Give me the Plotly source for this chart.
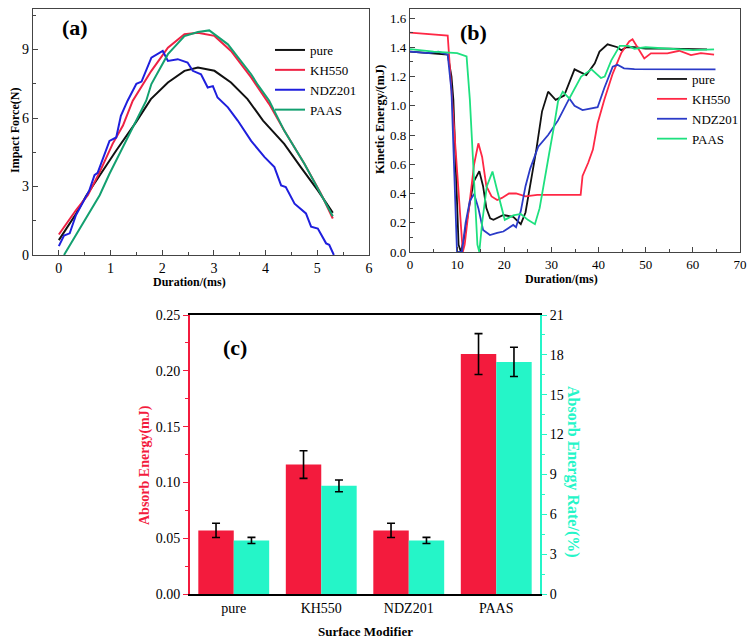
import plotly.graph_objects as go

# ---------------- Panel (a): impact force vs duration ----------------
pure_a_x = [0, 0.33, 0.53, 0.66, 1.11, 1.49, 1.78, 2.11, 2.43, 2.69, 3.01, 3.33, 3.65, 3.95, 4.36, 4.68, 5.01, 5.30]
pure_a_y = [0.65, 1.8, 2.6, 3.05, 4.58, 5.81, 6.83, 7.56, 8.07, 8.21, 8.07, 7.56, 6.83, 5.89, 4.87, 3.85, 2.83, 1.85]

kh_a_x = [0, 0.33, 0.56, 0.79, 1.04, 1.24, 1.43, 1.79, 2.11, 2.43, 2.69, 3.01, 3.33, 3.72, 4.07, 4.36, 4.75, 5.07, 5.30]
kh_a_y = [0.9, 1.96, 2.62, 3.63, 4.87, 5.67, 6.76, 8.07, 9.08, 9.67, 9.74, 9.6, 8.94, 7.78, 6.61, 5.45, 4.0, 2.69, 1.6]

ndz_a_x = [0, 0.1, 0.21, 0.33, 0.59, 0.69, 0.75, 0.98, 1.11, 1.2, 1.33, 1.5, 1.6, 1.79, 2.01, 2.11, 2.30, 2.49, 2.59,
           2.75, 2.88, 2.98, 3.07, 3.27, 3.46, 3.72, 3.98, 4.17, 4.30, 4.39, 4.56, 4.78, 4.88, 5.01, 5.17, 5.23, 5.32]
ndz_a_y = [0.39, 0.85, 0.95, 1.74, 2.83, 3.5, 3.6, 5.0, 5.15, 6.1, 6.76, 7.5, 7.6, 8.65, 8.94, 8.5, 8.58, 8.43, 8.07,
           7.92, 7.34, 7.4, 6.9, 6.47, 5.89, 5.0, 4.29, 3.85, 3.05, 2.98, 2.25, 1.82, 1.24, 1.16, 0.51, 0.45, 0.0]

paas_a_x = [0.1, 0.3, 0.59, 0.79, 0.98, 1.24, 1.49, 1.69, 1.79, 2.11, 2.43, 2.69, 2.91, 3.27, 3.72, 3.85, 4.07, 4.36, 4.75, 5.07, 5.30]
paas_a_y = [0.0, 0.76, 1.82, 2.62, 3.56, 4.72, 5.89, 6.76, 7.49, 8.8, 9.59, 9.77, 9.84, 9.23, 7.92, 7.45, 6.76, 5.45, 4.0, 2.69, 1.7]

# ---------------- Panel (b): kinetic energy vs duration ----------------
pure_b_x = [0, 4, 8, 8.8, 9.2, 9.8, 10.3, 10.8, 11.5, 12.5, 13.5, 14.7, 15.5, 16.2, 17.0, 17.7, 19.8, 21.9, 23.5,
            24.5, 25.5, 26.8, 28.0, 29.3, 30.9, 32.7, 34.9, 37.4, 39.2, 40.2, 41.9, 44.0, 44.8, 45.9, 47.6, 50, 55, 60, 63.0]
pure_b_y = [1.37, 1.36, 1.35, 1.2, 1.04, 0.5, 0.05, 0.0, 0.1, 0.3, 0.48, 0.553, 0.45, 0.3, 0.23, 0.22, 0.253, 0.24, 0.19,
            0.27, 0.45, 0.70, 0.96, 1.096, 1.04, 1.07, 1.249, 1.21, 1.29, 1.37, 1.42, 1.40, 1.38, 1.40, 1.40, 1.39, 1.39, 1.39, 1.385]

kh_b_x = [0, 4, 8.0, 8.8, 9.6, 10.4, 11.2, 11.6, 12.7, 13.6, 14.5, 15.3, 16.2, 17.3, 18.5, 19.5, 21.0, 22.5, 24.5, 27,
          30, 33, 36.2, 36.6, 37.8, 38.8, 39.8, 41.2, 43.0, 44.8, 46.5, 47.2, 48.2, 49.7, 51.1, 54.6, 57.1, 59.6, 61.7, 64.5]
kh_b_y = [1.50, 1.49, 1.48, 1.1, 0.72, 0.31, 0.0, 0.05, 0.355, 0.6, 0.743, 0.65, 0.45, 0.38, 0.355, 0.37, 0.40, 0.40, 0.38, 0.39,
          0.39, 0.39, 0.39, 0.52, 0.61, 0.70, 0.88, 1.04, 1.22, 1.36, 1.44, 1.454, 1.40, 1.324, 1.358, 1.358, 1.376, 1.346, 1.36, 1.35]

ndz_b_x = [0, 4, 6, 8, 8.8, 9.4, 9.97, 10.5, 11.0, 11.8, 12.7, 13.6, 14.5, 15.5, 16.96, 18.5, 19.8, 21.9, 22.5, 23.5,
           24.5, 25.5, 26.5, 27.2, 29.3, 31.4, 33.8, 34.9, 36.6, 38.0, 39.8, 41.2, 43.0, 44.0, 45.4, 47.6, 50, 55, 60, 64.8]
ndz_b_y = [1.37, 1.36, 1.37, 1.35, 1.1, 0.5, 0.0, 0.0, 0.0, 0.2, 0.35, 0.396, 0.3, 0.15, 0.116, 0.13, 0.14, 0.185, 0.17, 0.28,
           0.45, 0.57, 0.66, 0.72, 0.80, 0.90, 1.05, 1.0, 0.97, 0.98, 0.99, 1.12, 1.267, 1.28, 1.256, 1.25, 1.25, 1.25, 1.25, 1.249]

paas_b_x = [0, 5, 10, 12.0, 12.7, 13.5, 14.3, 14.7, 15.3, 16.3, 17.5, 18.5, 20.1, 21.9, 23.5, 25.0, 26.5, 27.5, 28.5,
            29.5, 30.5, 31.4, 32.4, 33.8, 36.3, 38.5, 40.5, 41.3, 42.7, 44.5, 46.3, 47.6, 50, 55, 60, 64.5]
paas_b_y = [1.387, 1.37, 1.36, 1.337, 1.04, 0.5, 0.05, 0.0, 0.2, 0.45, 0.55, 0.42, 0.22, 0.25, 0.26, 0.22, 0.19, 0.3, 0.5,
            0.67, 0.85, 1.03, 1.096, 1.05, 1.2, 1.249, 1.19, 1.2, 1.31, 1.41, 1.41, 1.39, 1.40, 1.39, 1.38, 1.385]

# ---------------- Panel (c): absorbed energy bars ----------------
modifiers = ["pure", "KH550", "NDZ201", "PAAS"]
absorb_energy = [0.057, 0.116, 0.057, 0.215]
absorb_energy_err = [0.0064, 0.0124, 0.0064, 0.0183]
absorb_rate = [4.03, 8.14, 4.03, 17.47]
absorb_rate_err = [0.23, 0.44, 0.23, 1.1]

series_names = ["pure", "KH550", "NDZ201", "PAAS"]

# page body has an 8px margin; figure is sized to fit the 756x639 window
OFF = 8
W, H = 756 - OFF, 639 - OFF
SERIF = "Liberation Serif"
col_a = {"pure": "#111111", "KH550": "#EE2244", "NDZ201": "#1F1FDD", "PAAS": "#13A070"}
col_b = {"pure": "#111111", "KH550": "#FF2845", "NDZ201": "#2B3BC8", "PAAS": "#1EE07F"}
RED = "#F31B3D"
CYAN = "#25F5C8"

fig = go.Figure()

for name, xs, ys in zip(series_names, [pure_a_x, kh_a_x, ndz_a_x, paas_a_x], [pure_a_y, kh_a_y, ndz_a_y, paas_a_y]):
    fig.add_trace(go.Scatter(x=xs, y=ys, mode="lines", name=name, xaxis="x", yaxis="y",
                             line=dict(color=col_a[name], width=2), legend="legend"))

for name, xs, ys in zip(series_names, [pure_b_x, kh_b_x, ndz_b_x, paas_b_x], [pure_b_y, kh_b_y, ndz_b_y, paas_b_y]):
    fig.add_trace(go.Scatter(x=xs, y=ys, mode="lines", name=name, xaxis="x2", yaxis="y2",
                             line=dict(color=col_b[name], width=1.8), legend="legend2"))

BW = 0.405
fig.add_trace(go.Bar(x=modifiers, y=absorb_energy, xaxis="x3", yaxis="y3", width=BW, offset=-BW,
                     marker=dict(color=RED, line=dict(width=0)), showlegend=False,
                     error_y=dict(type="data", array=absorb_energy_err, color="black", thickness=1.6, width=4)))
fig.add_trace(go.Bar(x=modifiers, y=absorb_rate, xaxis="x3", yaxis="y4", width=BW, offset=0,
                     marker=dict(color=CYAN, line=dict(width=0)), showlegend=False,
                     error_y=dict(type="data", array=absorb_rate_err, color="black", thickness=1.6, width=4)))

frame = dict(showline=True, linecolor="#444", linewidth=1.2, mirror=True, ticks="inside", ticklen=5,
             tickwidth=1.2, tickcolor="#444", showgrid=False, zeroline=False, automargin=False)

def px(v):
    return (v - OFF) / W

def py(v):
    return 1 - (v - OFF) / H

fig.update_layout(
    width=W, height=H, margin=dict(l=0, r=0, t=0, b=0),
    plot_bgcolor="white", paper_bgcolor="white",
    font=dict(family=SERIF, color="black"),
    barmode="overlay",
    xaxis=dict(domain=[px(33), px(369)], range=[-0.5, 6], anchor="y", tick0=0, dtick=1,
               minor=dict(ticks="inside", ticklen=3, dtick=0.5, tickcolor="#444"),
               tickfont=dict(size=14), **frame),
    yaxis=dict(domain=[py(255), py(8.5)], range=[0, 10.8], anchor="x", tick0=0, dtick=3,
               minor=dict(ticks="inside", ticklen=3, dtick=1.5, tickcolor="#444"),
               tickfont=dict(size=14), **frame),
    xaxis2=dict(domain=[px(410), px(740)], range=[0, 70], anchor="y2", tick0=0, dtick=10,
                minor=dict(ticks="inside", ticklen=3, dtick=5, tickcolor="#444"),
                tickfont=dict(size=13), **frame),
    yaxis2=dict(domain=[py(252), py(8.5)], range=[0, 1.665], anchor="x2", tick0=0, dtick=0.2, tickformat=".1f",
                minor=dict(ticks="inside", ticklen=3, dtick=0.1, tickcolor="#444"),
                tickfont=dict(size=13), **frame),
    xaxis3=dict(domain=[px(190), px(540)], range=[-0.5, 3.5], anchor="y3", type="category",
                showline=True, linecolor="black", linewidth=2, mirror=True, ticks="",
                showgrid=False, zeroline=False, automargin=False, tickfont=dict(size=14)),
    yaxis3=dict(domain=[py(594), py(315)], range=[0, 0.25], anchor="x3", tick0=0, dtick=0.05, tickformat=".2f",
                showline=True, linecolor=RED, linewidth=2, ticks="outside", ticklen=5, tickwidth=1.2,
                tickcolor=RED, minor=dict(ticks="outside", ticklen=3, dtick=0.025, tickcolor=RED),
                showgrid=False, zeroline=False, automargin=False, tickfont=dict(size=14)),
    yaxis4=dict(range=[0, 21], overlaying="y3", side="right", anchor="x3", tick0=0, dtick=3,
                showline=True, linecolor=CYAN, linewidth=2, ticks="outside", ticklen=5, tickwidth=1.2,
                tickcolor=CYAN, minor=dict(ticks="outside", ticklen=3, dtick=1.5, tickcolor=CYAN),
                showgrid=False, zeroline=False, automargin=False, tickfont=dict(size=14)),
    legend=dict(x=px(270), y=py(35), xanchor="left", yanchor="top", bgcolor="rgba(0,0,0,0)",
                borderwidth=0, font=dict(size=13, family=SERIF), itemwidth=30, tracegroupgap=0),
    legend2=dict(x=px(652), y=py(64), xanchor="left", yanchor="top", bgcolor="rgba(0,0,0,0)",
                 borderwidth=0, font=dict(size=13, family=SERIF), itemwidth=30, tracegroupgap=0),
)

def ann(text, x, y, size, color="black", angle=0, bold=True):
    fig.add_annotation(text=f"<b>{text}</b>" if bold else text, x=px(x), y=py(y), xref="paper", yref="paper",
                       showarrow=False, textangle=angle, xanchor="center", yanchor="middle",
                       font=dict(family=SERIF, size=size, color=color))

ann("(a)", 75, 28, 22)
ann("(b)", 473, 32, 22)
ann("(c)", 235, 347, 22)
ann("Impact Force(N)", 15, 131, 12, angle=-90)
ann("Duration/(ms)", 189.5, 282, 12)
ann("Kinetic Energy/(mJ)", 380, 120, 12.5, angle=-90)
ann("Duration/(ms)", 561, 279, 12)
ann("Absorb Energy(mJ)", 145, 465, 14, color=RED, angle=-90)
ann("Absorb Energy Rate/(%)", 573, 472, 16, color=CYAN, angle=90)
ann("Surface Modifier", 365, 631, 13)

fig.write_html("out.html")
